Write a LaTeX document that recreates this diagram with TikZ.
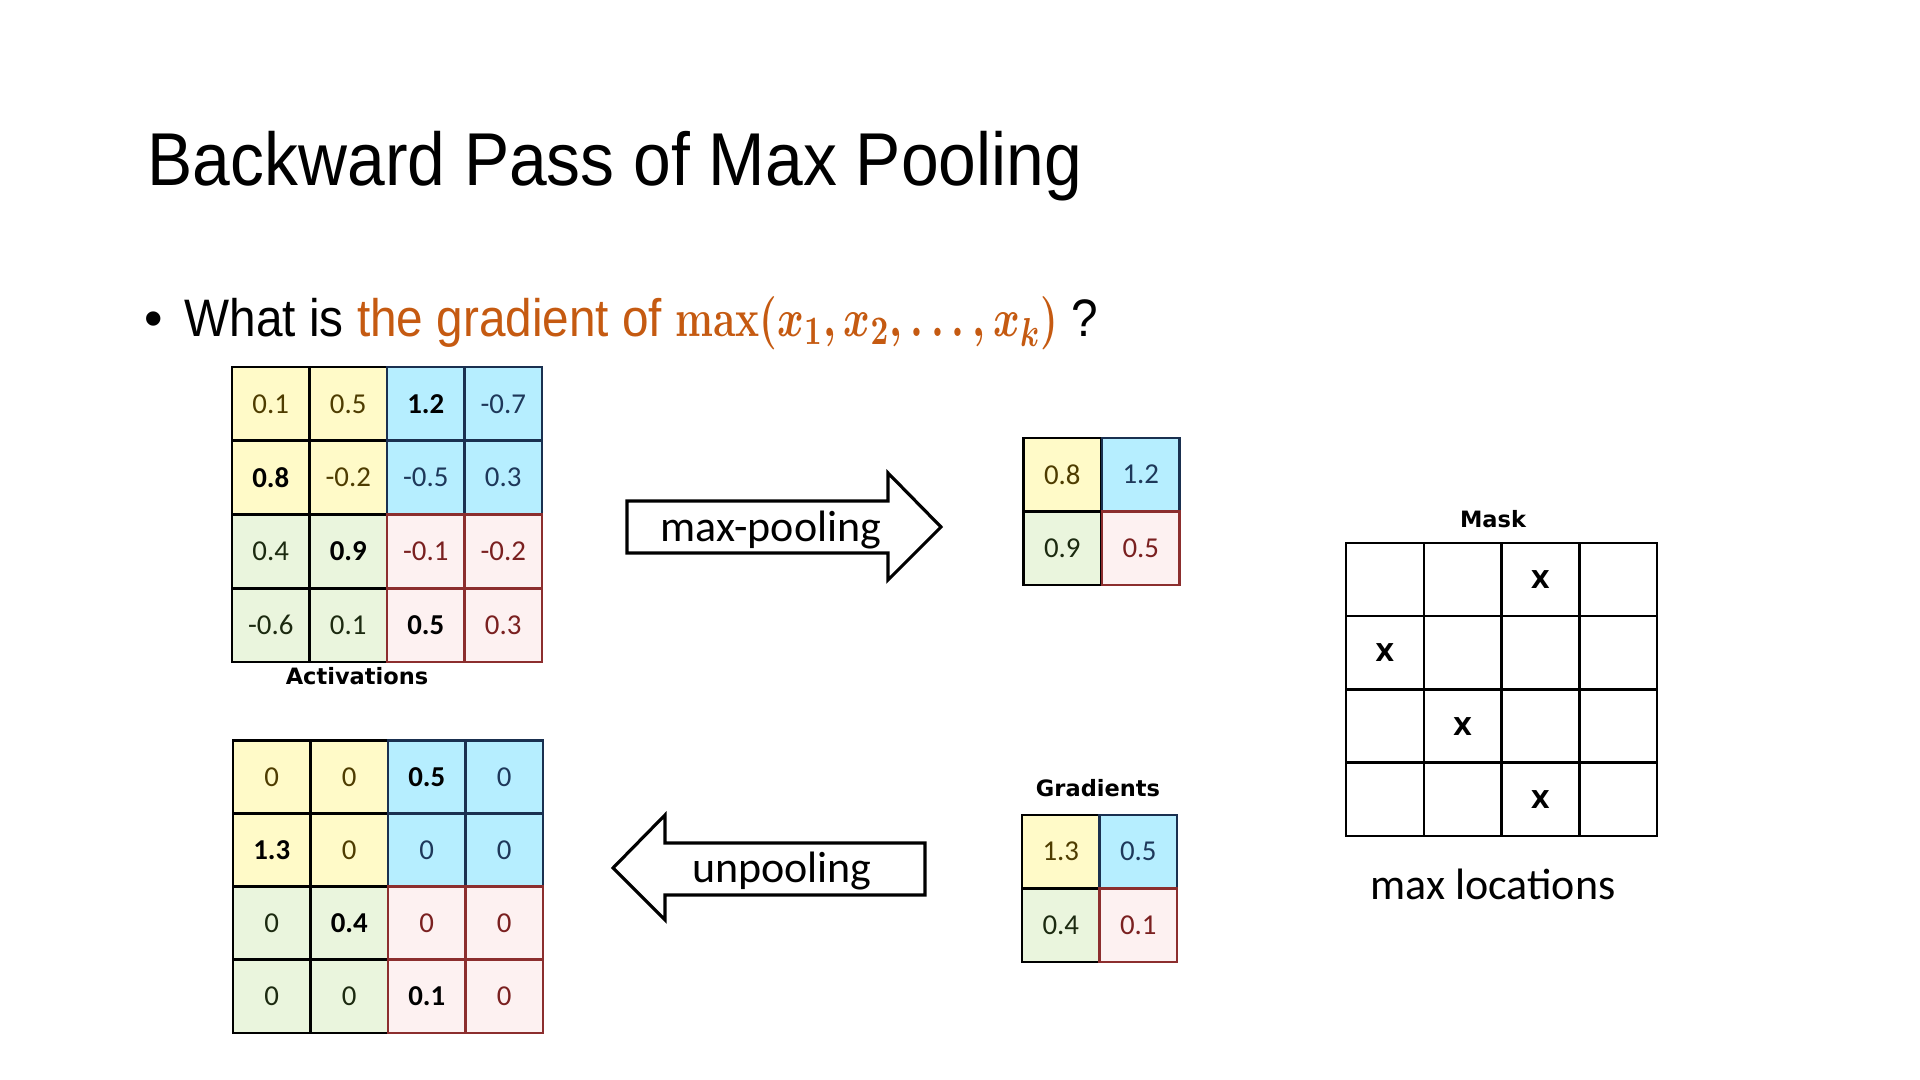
\documentclass[tikz,border=0pt]{standalone}
\usepackage[no-math]{fontspec}
\usepackage{amsmath}
\setmainfont{Liberation Sans}
\newfontfamily\slidefont[FakeStretch=0.905]{Liberation Sans}
\newfontfamily\cellfont{Carlito}
\newfontfamily\tagfont{DejaVu Sans}
\usetikzlibrary{positioning}

\definecolor{accent}{RGB}{197,90,17}
\definecolor{yelfill}{RGB}{255,250,200}
\definecolor{cyafill}{RGB}{182,238,255}
\definecolor{grnfill}{RGB}{234,245,221}
\definecolor{pnkfill}{RGB}{253,241,241}
\definecolor{yeltext}{RGB}{78,60,0}
\definecolor{cyatext}{RGB}{30,56,90}
\definecolor{grntext}{RGB}{28,42,16}
\definecolor{pnktext}{RGB}{122,32,32}
\definecolor{cyaline}{RGB}{26,48,80}
\definecolor{pnkline}{RGB}{140,46,46}

\newcommand{\peak}[1]{\textcolor{black}{\bfseries #1}}

\tikzset{
  cell/.style={draw, minimum width=0.775cm, minimum height=0.735cm, inner sep=0pt,
    line width=0.7pt, font=\cellfont\fontsize{8.2}{10}\selectfont},
  q0/.style={fill=yelfill, text=yeltext},
  q1/.style={fill=cyafill, text=cyatext, draw=cyaline},
  q2/.style={fill=grnfill, text=grntext},
  q3/.style={fill=pnkfill, text=pnktext, draw=pnkline},
  maskcell/.style={draw, minimum width=0.7775cm, minimum height=0.7325cm, inner sep=0pt, line width=0.7pt},
  tag/.style={font=\tagfont\bfseries\fontsize{6.4}{8}\selectfont, anchor=base},
  xmark/.style={font=\tagfont\bfseries\fontsize{7}{8}\selectfont},
  opname/.style={font=\cellfont\fontsize{12.5}{14}\selectfont, anchor=base},
  blockarrow/.style={draw, line width=0.9pt, line join=miter}
}

\begin{document}
\begin{tikzpicture}[x=0.01cm, y=-0.01cm]
\useasboundingbox (0,0) rectangle (1920,1080);

\node[anchor=base west, inner sep=0pt, font=\slidefont\fontsize{21.3}{24}\selectfont] (title) at (147,186) {Backward Pass of Max Pooling};
\node[inner sep=0pt, font=\fontsize{15}{18}\selectfont] (bullet) at (154,324) {\textbullet};
\node[anchor=base west, inner sep=0pt, font=\slidefont\fontsize{15}{18}\selectfont] (question) at (184,337)
  {What is \textcolor{accent}{the gradient of \scalebox{0.8}[1.05]{\boldmath$\mathbf{max}(x_{1},x_{2},\ldots,x_{k})$}} ?};

% activations
\foreach \vals [count=\r] in {{0.1,0.5,\peak{1.2},-0.7},{\peak{0.8},-0.2,-0.5,0.3},{0.4,\peak{0.9},-0.1,-0.2},{-0.6,0.1,\peak{0.5},0.3}}
  \foreach \v [count=\c] in \vals {
    \pgfmathtruncatemacro{\q}{2*int((\r-1)/2)+int((\c-1)/2)}
    \node[cell, q\q] (act-\r-\c) at ({232+77.5*(\c-0.5)},{367+73.75*(\r-0.5)}) {\v};
  }
\node[tag] (actlabel) at (357,685) {Activations};

% pooled
\foreach \vals [count=\r] in {{0.8,1.2},{0.9,0.5}}
  \foreach \v [count=\c] in \vals {
    \pgfmathtruncatemacro{\q}{2*(\r-1)+(\c-1)}
    \node[cell, q\q] (pool-\r-\c) at ({1023+78.5*(\c-0.5)},{438+73.5*(\r-0.5)}) {\v};
  }

% gradients
\foreach \vals [count=\r] in {{1.3,0.5},{0.4,0.1}}
  \foreach \v [count=\c] in \vals {
    \pgfmathtruncatemacro{\q}{2*(\r-1)+(\c-1)}
    \node[cell, q\q] (grad-\r-\c) at ({1022+77.5*(\c-0.5)},{815+73.5*(\r-0.5)}) {\v};
  }
\node[tag] (gradlabel) at (1098,797) {Gradients};

% unpooled
\foreach \vals [count=\r] in {{0,0,\peak{0.5},0},{\peak{1.3},0,0,0},{0,\peak{0.4},0,0},{0,0,\peak{0.1},0}}
  \foreach \v [count=\c] in \vals {
    \pgfmathtruncatemacro{\q}{2*int((\r-1)/2)+int((\c-1)/2)}
    \node[cell, q\q] (unp-\r-\c) at ({233+77.5*(\c-0.5)},{741+73*(\r-0.5)}) {\v};
  }

% mask
\foreach \r in {1,...,4}
  \foreach \c in {1,...,4}
    \node[maskcell] (mask-\r-\c) at ({1346+77.75*(\c-0.5)},{543+73.25*(\r-0.5)}) {};
\node[tag] (masklabel) at (1493,528) {Mask};
\node[xmark] (x1) at (mask-1-3) {X};
\node[xmark] (x2) at (mask-2-1) {X};
\node[xmark] (x3) at (mask-3-2) {X};
\node[xmark] (x4) at (mask-4-3) {X};
\node[opname] (maxloc) at (1493,900) {max locations};

% arrows
\draw[blockarrow] (627,501) -- (888,501) -- (888,473) -- (941,527) -- (888,580) -- (888,553) -- (627,553) -- cycle;
\node[opname] (pooling) at (771,542) {max-pooling};
\draw[blockarrow] (925,843) -- (665,843) -- (665,815) -- (613,868) -- (665,920) -- (665,895) -- (925,895) -- cycle;
\node[opname] (unpooling) at (782,883) {unpooling};
\end{tikzpicture}
\end{document}
